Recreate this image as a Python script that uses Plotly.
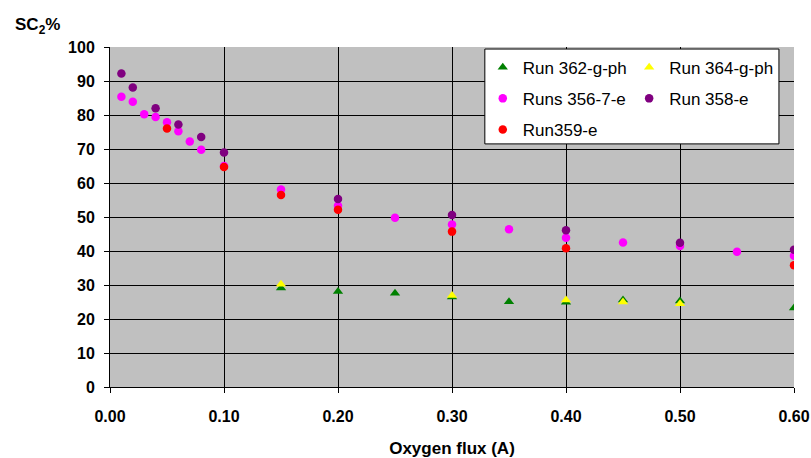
import plotly.graph_objects as go

# ---- data ----
x_362 = [0.15, 0.20, 0.25, 0.30, 0.35, 0.40, 0.45, 0.50, 0.60]
y_362 = [29.1, 28.1, 27.6, 26.5, 25.1, 24.9, 25.6, 25.3, 23.2]

x_364 = [0.15, 0.30, 0.40, 0.45, 0.50]
y_364 = [30.2, 26.9, 25.6, 25.0, 24.5]

x_356 = [0.01, 0.02, 0.03, 0.04, 0.05, 0.06, 0.07, 0.08, 0.10, 0.15, 0.20, 0.25,
         0.30, 0.35, 0.40, 0.45, 0.50, 0.55, 0.60]
y_356 = [85.4, 83.9, 80.2, 79.4, 77.9, 75.2, 72.2, 69.8, 65.0, 58.1, 53.3, 49.8,
         47.8, 46.4, 43.9, 42.5, 41.5, 39.8, 38.6]

x_358 = [0.01, 0.02, 0.04, 0.06, 0.08, 0.10, 0.20, 0.30, 0.40, 0.50, 0.60]
y_358 = [92.2, 88.1, 82.0, 77.2, 73.5, 69.0, 55.3, 50.6, 46.1, 42.4, 40.4]

x_359 = [0.05, 0.10, 0.15, 0.20, 0.30, 0.40, 0.60]
y_359 = [76.0, 64.7, 56.5, 52.1, 45.7, 40.8, 35.8]

x_ticks = [0.0, 0.1, 0.2, 0.3, 0.4, 0.5, 0.6]
y_ticks = [0, 10, 20, 30, 40, 50, 60, 70, 80, 90, 100]

FONT = "Liberation Sans, Arial, sans-serif"

fig = go.Figure()
fig.add_trace(go.Scatter(x=x_362, y=y_362, mode="markers", name="Run 362-g-ph",
                         marker=dict(symbol="triangle-up", size=9, color="#008000"),
                         legend="legend", legendgroup="a"))
fig.add_trace(go.Scatter(x=x_364, y=y_364, mode="markers", name="Run 364-g-ph",
                         marker=dict(symbol="triangle-up", size=9, color="#FFFF00"),
                         legend="legend2", legendgroup="b"))
fig.add_trace(go.Scatter(x=x_356, y=y_356, mode="markers", name="Runs 356-7-e",
                         marker=dict(symbol="circle", size=8.5, color="#FF00FF"),
                         legend="legend", legendgroup="c"))
fig.add_trace(go.Scatter(x=x_358, y=y_358, mode="markers", name="Run 358-e",
                         marker=dict(symbol="circle", size=8.5, color="#800080"),
                         legend="legend2", legendgroup="d"))
fig.add_trace(go.Scatter(x=x_359, y=y_359, mode="markers", name="Run359-e",
                         marker=dict(symbol="circle", size=8.5, color="#FF0000"),
                         legend="legend", legendgroup="e"))

leg_common = dict(bgcolor="rgba(0,0,0,0)", borderwidth=0,
                  font=dict(family=FONT, size=17, color="black"),
                  xanchor="left", yanchor="top", tracegroupgap=6)

fig.update_layout(
    width=811, height=458,
    margin=dict(l=110, r=17, t=47, b=71, autoexpand=False),
    paper_bgcolor="white", plot_bgcolor="#C0C0C0",
    font=dict(family=FONT, color="black"),
    showlegend=True,
    legend=dict(x=0.545, y=0.992, **leg_common),
    legend2=dict(x=0.759, y=0.992, **leg_common),
    xaxis=dict(range=[0, 0.6], tickvals=x_ticks, tickformat=".2f", automargin=False,
               showgrid=True, gridcolor="black", gridwidth=1, zeroline=False,
               showline=True, linecolor="black", linewidth=1,
               ticks="outside", ticklen=5, tickcolor="black",
               tickfont=dict(family=FONT, size=16, color="black", weight="bold"),
               ticklabelstandoff=10,
               title=dict(text="<b>Oxygen flux (A)</b>", font=dict(family=FONT, size=17),
                          standoff=19)),
    yaxis=dict(range=[0, 100], tickvals=y_ticks, automargin=False,
               showgrid=True, gridcolor="black", gridwidth=1, zeroline=False,
               showline=True, linecolor="black", linewidth=1,
               ticks="outside", ticklen=5, tickcolor="black",
               tickfont=dict(family=FONT, size=16, color="black", weight="bold"),
               ticklabelstandoff=6),
    shapes=[dict(type="rect", xref="paper", yref="paper",
                 x0=0.548, x1=0.978, y0=0.715, y1=0.994,
                 fillcolor="white", line=dict(color="black", width=1), layer="above")],
    annotations=[dict(text="<b>SC<sub>2</sub>%</b>", xref="paper", yref="paper",
                      x=-0.142, y=1.062, xanchor="left", yanchor="middle",
                      showarrow=False, font=dict(family=FONT, size=17, color="black"))],
)

fig.write_html("out.html")
